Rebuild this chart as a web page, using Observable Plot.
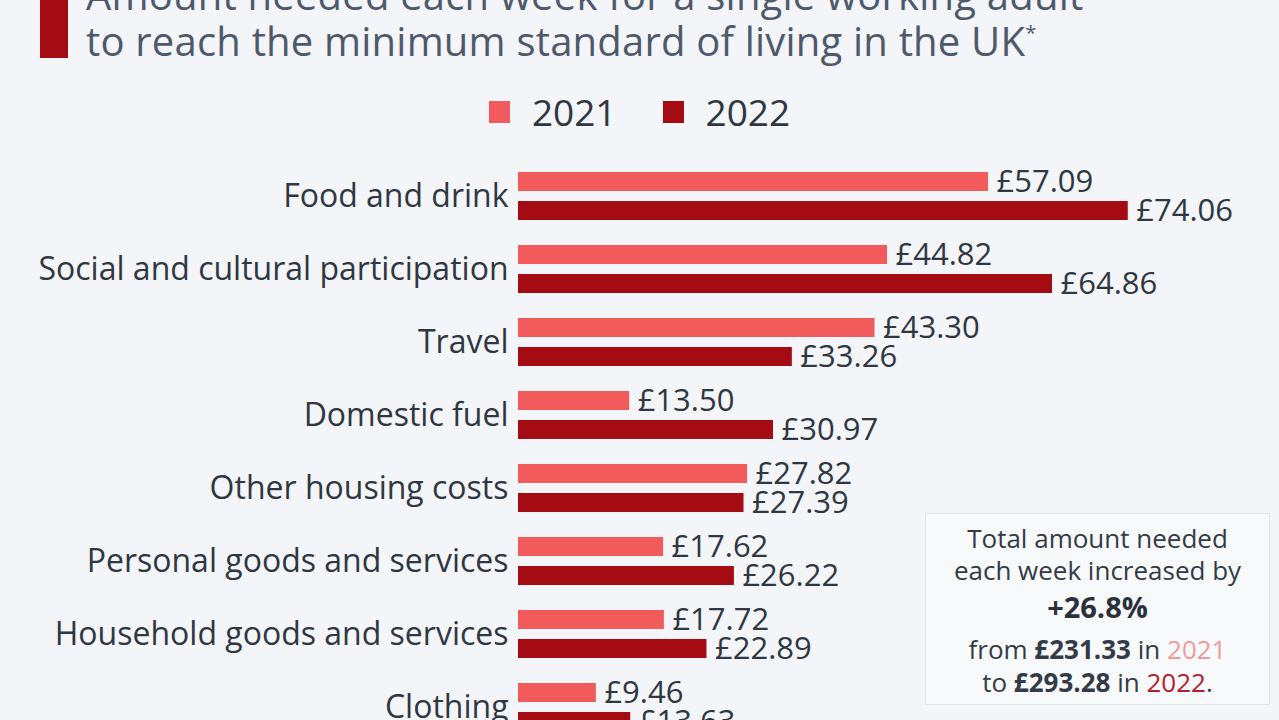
<!DOCTYPE html>
<html>
<head>
<meta charset="utf-8">
<script src="https://cdn.jsdelivr.net/npm/d3@7"></script>
<script src="https://cdn.jsdelivr.net/npm/@observablehq/plot@0.6"></script>
<style>
  html, body { margin: 0; padding: 0; }
  body { width: 1279px; height: 720px; overflow: hidden; background: #f3f5f8; position: relative; font-family: "Open Sans", sans-serif; }
  .titlebar { position: absolute; left: 40px; top: 0; width: 28px; height: 58px; background: #a50b12; }
  .title { position: absolute; left: 86px; top: -28px; font-size: 40px; line-height: 46px; color: #4e5a6b; white-space: nowrap; letter-spacing: 0.2px; }
  .title sup { font-size: 20px; vertical-align: 16px; line-height: 0; }
  .legend { position: absolute; top: 89px; left: 0; width: 1279px; display: flex; justify-content: center; align-items: center; font-size: 37px; line-height: 46px; color: #2f3742; }
  .legend .item { display: flex; align-items: center; margin: 0 23px; }
  .legend .sw { width: 21px; height: 22px; margin-right: 22px; }
  #chart { position: absolute; left: 0; top: 150px; }
  .box { position: absolute; left: 925px; top: 513px; width: 345px; height: 192px; background: #f8f9fb; border: 1px solid #e3e6eb; box-sizing: border-box; }
  .box div { position: absolute; left: 0; width: 100%; text-align: center; font-size: 26px; line-height: 32px; color: #333b46; white-space: nowrap; }
</style>
</head>
<body>
<div class="titlebar"></div>
<div class="title">Amount needed each week for a single working adult<br>to reach the minimum standard of living in the UK<sup>*</sup></div>
<div class="legend" id="legend"></div>
<div id="chart"></div>
<div class="box">
  <div style="top:8px">Total amount needed</div>
  <div style="top:40px">each week increased by</div>
  <div style="top:77px; font-size:29px; font-weight:700; color:#2a313b">+26.8%</div>
  <div style="top:119px">from <b>£231.33</b> in <span style="color:#f29a9a">2021</span></div>
  <div style="top:152px">to <b>£293.28</b> in <span style="color:#b3202b">2022</span>.</div>
</div>
<script>
const categories = ["Food and drink","Social and cultural participation","Travel","Domestic fuel","Other housing costs","Personal goods and services","Household goods and services","Clothing"];
const years = ["2021","2022"];
const values2021 = [57.09,44.82,43.30,13.50,27.82,17.62,17.72,9.46];
const values2022 = [74.06,64.86,33.26,30.97,27.39,26.22,22.89,13.63];
const colors = ["#f25b5b","#a50b12"];

const data = categories.flatMap((c, i) => [
  {category: c, year: years[0], value: values2021[i]},
  {category: c, year: years[1], value: values2022[i]}
]);

const legend = document.getElementById("legend");
years.forEach((y, i) => {
  const it = document.createElement("div");
  it.className = "item";
  it.innerHTML = `<span class="sw" style="background:${colors[i]}"></span><span>${y}</span>`;
  legend.appendChild(it);
});

const chart = Plot.plot({
  width: 1279,
  height: 595,
  marginLeft: 518,
  marginRight: 20,
  marginTop: 8,
  marginBottom: 0,
  style: {background: "transparent", fontFamily: "Open Sans, sans-serif", fontSize: "32px", color: "#2f3742"},
  facet: {data: data, y: "category"},
  x: {domain: [0, 90], axis: null},
  y: {domain: years, axis: null, paddingInner: 0.333, paddingOuter: 0.389},
  fy: {domain: categories, padding: 0, label: null, axis: "left", tickSize: 0, tickPadding: 10},
  color: {domain: years, range: colors},
  marks: [
    Plot.barX(data, {x: "value", y: "year", fill: "year"}),
    Plot.text(data, {x: "value", y: "year", text: d => "£" + d.value.toFixed(2), textAnchor: "start", dx: 8, fontSize: 31, fill: "#2f3742"})
  ]
});
document.getElementById("chart").appendChild(chart);
</script>
</body>
</html>
